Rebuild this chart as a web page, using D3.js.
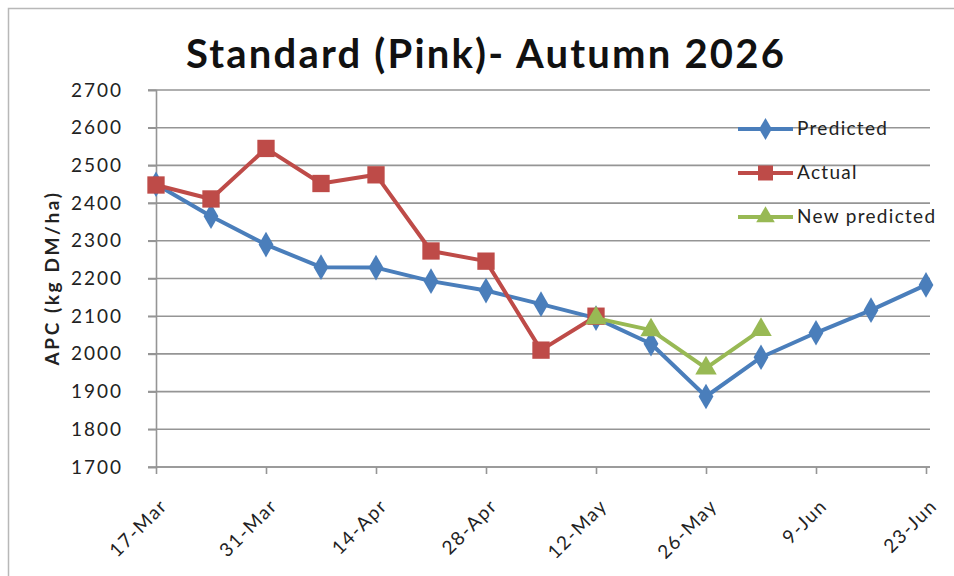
<!DOCTYPE html>
<html>
<head>
<meta charset="utf-8">
<script src="https://cdn.jsdelivr.net/npm/d3@7"></script>
<style>
  body { margin: 0; background: #fff; }
  svg { display: block; }
</style>
</head>
<body>
<div id="chart"></div>
<script>
// weekly dates of the season
var weeks = ['17-Mar', '24-Mar', '31-Mar', '7-Apr', '14-Apr', '21-Apr', '28-Apr', '5-May',
             '12-May', '19-May', '26-May', '2-Jun', '9-Jun', '16-Jun', '23-Jun'];
var predicted = [2450, 2365, 2290, 2230, 2229, 2193, 2168, 2132, 2095, 2027, 1887, 1991, 2056, 2116, 2183];

var actualWeeks = ['17-Mar', '24-Mar', '31-Mar', '7-Apr', '14-Apr', '21-Apr', '28-Apr', '5-May', '12-May'];
var actual = [2448, 2411, 2545, 2452, 2475, 2273, 2246, 2010, 2100];

var newPredWeeks = ['12-May', '19-May', '26-May', '2-Jun'];
var newPredicted = [2095, 2063, 1962, 2064];

var xTickLabels = ['17-Mar', '31-Mar', '14-Apr', '28-Apr', '12-May', '26-May', '9-Jun', '23-Jun'];
var yTicks = [1700, 1800, 1900, 2000, 2100, 2200, 2300, 2400, 2500, 2600, 2700];

var seriesNames = ['Predicted', 'Actual', 'New predicted'];
var colors = ['#4A7EBB', '#BE4B48', '#98B954'];

var width = 954, height = 576;
var margin = { left: 156, right: 28, top: 90, bottom: 109 };
var font = 'Lato, "Open Sans", sans-serif';

var parse = d3.timeParse('%d-%b-%Y');
function toDate(s) { return parse(s + '-2026'); }

var x = d3.scaleTime()
    .domain([toDate(weeks[0]), toDate(weeks[weeks.length - 1])])
    .range([margin.left, width - margin.right]);
var y = d3.scaleLinear()
    .domain([1700, 2700])
    .range([height - margin.bottom, margin.top]);

var svg = d3.select('#chart').append('svg')
    .attr('width', width)
    .attr('height', height);

// outer chart frame
svg.append('rect')
    .attr('x', 8.5).attr('y', 8.5)
    .attr('width', 1000).attr('height', 1000)
    .attr('fill', 'none')
    .attr('stroke', '#b8b8b8')
    .attr('stroke-width', 1.5);

// title
svg.append('text')
    .attr('x', 486).attr('y', 68)
    .attr('text-anchor', 'middle')
    .style('font-family', font)
    .style('font-size', '40px')
    .style('font-weight', 700)
    .style('letter-spacing', '2.2px')
    .attr('fill', '#111')
    .text('Standard (Pink)- Autumn 2026');

// gridlines
svg.append('g')
    .selectAll('line')
    .data(yTicks)
    .join('line')
    .attr('x1', margin.left - 8)
    .attr('x2', width - margin.right + 4)
    .attr('y1', function (d) { return y(d); })
    .attr('y2', function (d) { return y(d); })
    .attr('stroke', '#959595')
    .attr('stroke-width', 1.6);

// y axis
var yAxis = svg.append('g')
    .attr('transform', 'translate(' + margin.left + ',0)')
    .call(d3.axisLeft(y).tickValues(yTicks).tickSize(8).tickPadding(25).tickFormat(d3.format('d')));
yAxis.select('.domain').attr('stroke', '#959595').attr('stroke-width', 1.6);
yAxis.selectAll('.tick line').attr('stroke', '#959595').attr('stroke-width', 1.6);
yAxis.selectAll('text')
    .style('font-family', font)
    .style('font-size', '19px')
    .style('letter-spacing', '2px')
    .attr('fill', '#222');

svg.append('text')
    .attr('transform', 'translate(59,' + 278 + ') rotate(-90)')
    .attr('text-anchor', 'middle')
    .style('font-family', font)
    .style('font-size', '19px')
    .style('font-weight', 700)
    .style('letter-spacing', '2.6px')
    .attr('fill', '#222')
    .text('APC (kg DM/ha)');

// x axis
var xAxis = svg.append('g')
    .attr('transform', 'translate(0,' + (height - margin.bottom) + ')')
    .call(d3.axisBottom(x).tickValues(xTickLabels.map(toDate)).tickSize(7)
        .tickFormat(function (d, i) { return xTickLabels[i]; }));
xAxis.select('.domain').attr('stroke', '#959595').attr('stroke-width', 1.6)
    .attr('d', 'M' + margin.left + ',0H' + (width - margin.right + 4));
xAxis.selectAll('.tick line').attr('stroke', '#959595').attr('stroke-width', 1.6);
xAxis.selectAll('text')
    .style('font-family', font)
    .style('font-size', '19px')
    .style('letter-spacing', '1.6px')
    .attr('fill', '#222')
    .attr('text-anchor', 'end')
    .attr('dy', null)
    .attr('y', 0)
    .attr('transform', 'translate(12,40) rotate(-45)');

// series
var series = [
    { name: seriesNames[0], dates: weeks, values: predicted, color: colors[0], symbol: d3.symbolDiamond, size: 190 },
    { name: seriesNames[1], dates: actualWeeks, values: actual, color: colors[1], symbol: d3.symbolSquare, size: 300 },
    { name: seriesNames[2], dates: newPredWeeks, values: newPredicted, color: colors[2], symbol: d3.symbolTriangle, size: 200 }
];

var line = d3.line()
    .x(function (d) { return x(d.date); })
    .y(function (d) { return y(d.value); });

series.forEach(function (s) {
    var pts = s.values.map(function (v, i) { return { date: toDate(s.dates[i]), value: v }; });
    var g = svg.append('g');
    g.append('path')
        .datum(pts)
        .attr('fill', 'none')
        .attr('stroke', s.color)
        .attr('stroke-width', 4)
        .attr('stroke-linejoin', 'round')
        .attr('d', line);
    g.selectAll('path.mark')
        .data(pts)
        .join('path')
        .attr('class', 'mark')
        .attr('transform', function (d) { return 'translate(' + x(d.date) + ',' + y(d.value) + ')'; })
        .attr('d', d3.symbol().type(s.symbol).size(s.size))
        .attr('fill', s.color);
});

// legend
var legend = svg.append('g')
    .selectAll('g')
    .data(series)
    .join('g')
    .attr('transform', function (d, i) { return 'translate(738,' + (129 + i * 44) + ')'; });
legend.append('line')
    .attr('x1', 0).attr('x2', 55)
    .attr('stroke', function (d) { return d.color; })
    .attr('stroke-width', 4);
legend.append('path')
    .attr('transform', 'translate(27.5,0)')
    .attr('d', function (d) { return d3.symbol().type(d.symbol).size(d.size * 0.75)(); })
    .attr('fill', function (d) { return d.color; });
legend.append('text')
    .attr('x', 59).attr('y', 6)
    .style('font-family', font)
    .style('font-size', '19px')
    .style('letter-spacing', '1.3px')
    .attr('fill', '#222')
    .text(function (d) { return d.name; });
</script>
</body>
</html>
